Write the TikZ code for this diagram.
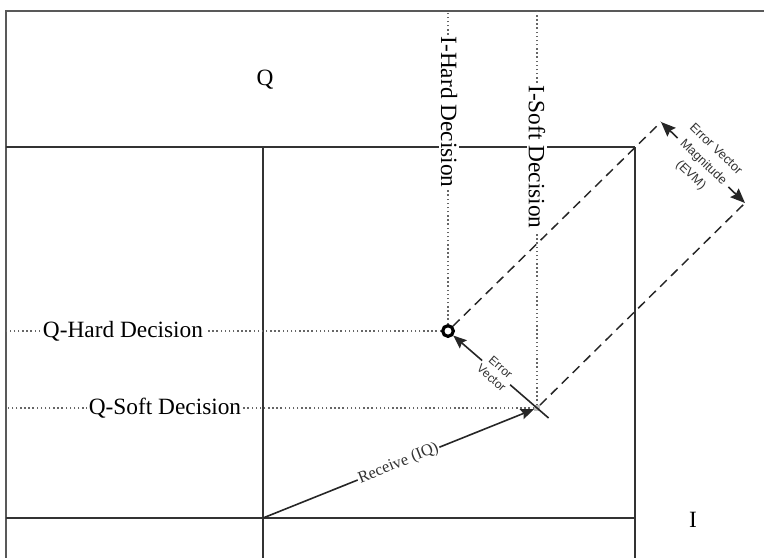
\documentclass[tikz,border=0pt]{standalone}
\usepackage{fontspec}
\setmainfont{Liberation Serif}
\newfontfamily\notesans{Liberation Sans}
\usetikzlibrary{arrows.meta}
\usetikzlibrary{calc}
\tikzset{
	gridline/.style = {draw = black!80, line width = 1.1pt},
	guide/.style = {draw = black!60, dotted, line width = 1.1pt},
	evmline/.style = {draw = black!85, dash pattern = on 7pt off 4.5pt, line width = 1.1pt},
	vector/.style = {draw = black!85, line width = 1.2pt, -{Stealth[length = 10pt, width = 8pt, inset = 1.5pt]}},
	decision/.style = {fill = white, inner sep = 1.5pt, font = \fontsize{17.5}{20}\selectfont},
	vecnote/.style = {fill = white, inner sep = 1pt, align = center, text = black!80, font = \notesans\fontsize{9}{10.5}\selectfont},
	hardpt/.style = {circle, draw = black, fill = white, line width = 2.4pt, minimum size = 8pt, inner sep = 0pt},
	softpt/.style = {rectangle, fill = black!25, minimum size = 4pt, inner sep = 0pt}
}
\begin{document}
\begin{tikzpicture}[x = 0.75pt, y = -0.75pt]
		\useasboundingbox (0,0) rectangle (764,558);
		% frame and axes
		\draw [gridline, draw = black!65] (764,11) -- (6,11) -- (6,558);
		\foreach \y in {147,518}{
				\draw [gridline] (6,\y) -- (635,\y);
			}
		\foreach \x in {263,635}{
				\draw [gridline] (\x,147) -- (\x,558);
			}
		\node (qaxis) [decision, fill = none] at (265,80) {Q};
		\node (iaxis) [decision, fill = none] at (693,520) {I};
		%
		\coordinate (o) at (263,518);
		\node (soft) [softpt] at (537,408) {};
		\node (hard) [hardpt] at (448,331) {};
		\coordinate (evma) at (661,122);
		\coordinate (evmb) at (745,203);
		\coordinate (softtail) at ($(soft)!-0.13!(hard)$);
		%
		\draw [guide] (hard) -- (hard |- 0,11);
		\draw [guide] (soft) -- (soft |- 0,11);
		\draw [guide] (hard) -- (hard -| 6,0);
		\draw [guide] (soft) -- (soft -| 6,0);
		\node (ihard) [decision, rotate = -90] at (449,112) {I-Hard Decision};
		\node (isoft) [decision, rotate = -90] at (537,157) {I-Soft Decision};
		\node (qhard) [decision] at (123,331) {Q-Hard Decision};
		\node (qsoft) [decision] at (165,408) {Q-Soft Decision};
		%
		\draw [evmline] (hard) -- (evma);
		\draw [evmline] (soft) -- (evmb);
		\draw [vector, {Stealth[length = 11pt, width = 9pt, inset = 1.5pt]}-{Stealth[length = 11pt, width = 9pt, inset = 1.5pt]}] (evma) -- node [sloped, vecnote, font = \notesans\fontsize{9.5}{13.5}\selectfont] {Error Vector\\Magnitude\\(EVM)} (evmb);
		\draw [vector] (softtail) -- node [sloped, vecnote, pos = 0.55] {Error\\Vector} (hard);
		\draw [vector] (o) -- node [sloped, fill = white, inner sep = 1pt, text = black!80, font = \fontsize{12.3}{14}\selectfont] {Receive (IQ)} (soft);
	\end{tikzpicture}
\end{document}
